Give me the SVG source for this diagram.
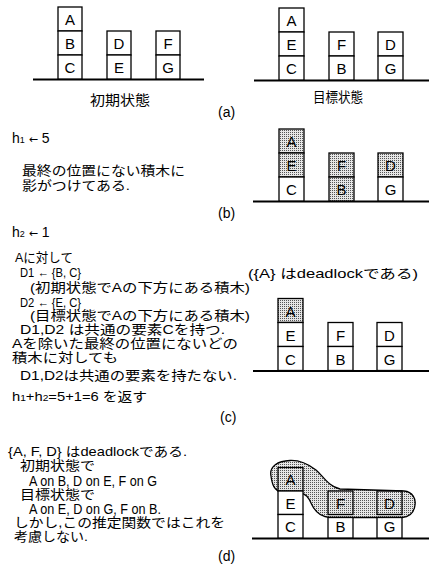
<svg xmlns="http://www.w3.org/2000/svg" width="429" height="568" viewBox="0 0 429 568">
<defs>
<pattern id="dots" patternUnits="userSpaceOnUse" width="2" height="2">
<rect width="2" height="2" fill="#e6e6e6"/>
<rect width="1" height="1" fill="#555"/>
</pattern>
<style>
text{font-family:"Liberation Sans","Noto Sans CJK JP",sans-serif;font-size:13px;fill:#000}
.lat{font-size:14px}
.lbl{font-size:15px;text-anchor:middle}
.cap{font-size:14px}
.arr{font-family:"DejaVu Sans",sans-serif;font-size:11px}
.blk{fill:#fff;stroke:#000;stroke-width:1.3}
.sh{fill:url(#dots);stroke:#000;stroke-width:1.3}
.ol{fill:none;stroke:#000;stroke-width:1.3}
.gnd{stroke:#000;stroke-width:2;fill:none}
.sub{font-size:9px}
</style>
</defs>
<rect width="429" height="568" fill="#fff"/>

<!-- (a) initial state -->
<g id="a-initial">
<line class="gnd" x1="33" y1="79.5" x2="204" y2="79.5"/>
<rect class="blk" x="58" y="7" width="24" height="24"/><text class="lbl" x="70" y="25">A</text>
<rect class="blk" x="58" y="31" width="24" height="24"/><text class="lbl" x="70" y="49">B</text>
<rect class="blk" x="58" y="55" width="24" height="24"/><text class="lbl" x="70" y="73">C</text>
<rect class="blk" x="107" y="31" width="24" height="24"/><text class="lbl" x="119" y="49">D</text>
<rect class="blk" x="107" y="55" width="24" height="24"/><text class="lbl" x="119" y="73">E</text>
<rect class="blk" x="156" y="31" width="24" height="24"/><text class="lbl" x="168" y="49">F</text>
<rect class="blk" x="156" y="55" width="24" height="24"/><text class="lbl" x="168" y="73">G</text>
<text class="cap" x="90" y="105" textLength="60" lengthAdjust="spacingAndGlyphs">初期状態</text>
</g>

<!-- (a) goal state -->
<g id="a-goal">
<line class="gnd" x1="254" y1="80.5" x2="429" y2="80.5"/>
<rect class="blk" x="279" y="8" width="25" height="24"/><text class="lbl" x="291.5" y="26">A</text>
<rect class="blk" x="279" y="32" width="25" height="24"/><text class="lbl" x="291.5" y="50">E</text>
<rect class="blk" x="279" y="56" width="25" height="24"/><text class="lbl" x="291.5" y="74">C</text>
<rect class="blk" x="329" y="32" width="25" height="24"/><text class="lbl" x="341.5" y="50">F</text>
<rect class="blk" x="329" y="56" width="25" height="24"/><text class="lbl" x="341.5" y="74">B</text>
<rect class="blk" x="378" y="32" width="25" height="24"/><text class="lbl" x="390.5" y="50">D</text>
<rect class="blk" x="378" y="56" width="25" height="24"/><text class="lbl" x="390.5" y="74">G</text>
<text class="cap" x="313" y="102" textLength="50" lengthAdjust="spacingAndGlyphs">目標状態</text>
<text class="cap" x="218" y="117">(a)</text>
</g>

<!-- (b) -->
<g id="b-text">
<text class="lat" x="12" y="143">h<tspan class="sub">1</tspan> <tspan class="arr">←</tspan> 5</text>
<text x="22" y="175" textLength="163" lengthAdjust="spacingAndGlyphs">最終の位置にない積木に</text>
<text x="22" y="190" textLength="108" lengthAdjust="spacingAndGlyphs">影がつけてある.</text>
<text class="cap" x="218" y="218">(b)</text>
</g>
<g id="b-blocks">
<line class="gnd" x1="253" y1="201.5" x2="429" y2="201.5"/>
<rect class="sh" x="279" y="129" width="25" height="24"/><text class="lbl" x="291.5" y="147">A</text>
<rect class="sh" x="279" y="153" width="25" height="24"/><text class="lbl" x="291.5" y="171">E</text>
<rect class="blk" x="279" y="177" width="25" height="24"/><text class="lbl" x="291.5" y="195">C</text>
<rect class="sh" x="329" y="153" width="25" height="24"/><text class="lbl" x="341.5" y="171">F</text>
<rect class="sh" x="329" y="177" width="25" height="24"/><text class="lbl" x="341.5" y="195">B</text>
<rect class="sh" x="378" y="153" width="25" height="24"/><text class="lbl" x="390.5" y="171">D</text>
<rect class="blk" x="378" y="177" width="25" height="24"/><text class="lbl" x="390.5" y="195">G</text>
</g>

<!-- (c) -->
<g id="c-text">
<text class="lat" x="12" y="237">h<tspan class="sub">2</tspan> <tspan class="arr">←</tspan> 1</text>
<text x="15" y="261.5" textLength="58" lengthAdjust="spacingAndGlyphs">Aに対して</text>
<text x="20" y="276.5" textLength="61" lengthAdjust="spacingAndGlyphs">D1 ← {B, C}</text>
<text x="30" y="292" textLength="220" lengthAdjust="spacingAndGlyphs">(初期状態でAの下方にある積木)</text>
<text x="20" y="306.5" textLength="61" lengthAdjust="spacingAndGlyphs">D2 ← {E, C}</text>
<text x="30" y="320" textLength="220" lengthAdjust="spacingAndGlyphs">(目標状態でAの下方にある積木)</text>
<text x="20" y="334" textLength="205" lengthAdjust="spacingAndGlyphs">D1,D2 は共通の要素Cを持つ.</text>
<text x="12" y="348" textLength="226" lengthAdjust="spacingAndGlyphs">Aを除いた最終の位置にないどの</text>
<text x="12" y="362" textLength="106" lengthAdjust="spacingAndGlyphs">積木に対しても</text>
<text x="20" y="380" textLength="217" lengthAdjust="spacingAndGlyphs">D1,D2は共通の要素を持たない.</text>
<text x="12" y="401" textLength="135" lengthAdjust="spacingAndGlyphs">h<tspan class="sub">1</tspan>+h<tspan class="sub">2</tspan>=5+1=6 を返す</text>
<text x="248" y="278" textLength="170" lengthAdjust="spacingAndGlyphs">({A} はdeadlockである)</text>
<text class="cap" x="220" y="422">(c)</text>
</g>
<g id="c-blocks">
<line class="gnd" x1="253" y1="371" x2="429" y2="371"/>
<rect class="sh" x="278" y="298.5" width="25" height="24"/><text class="lbl" x="290.5" y="316.5">A</text>
<rect class="blk" x="278" y="322.5" width="25" height="24"/><text class="lbl" x="290.5" y="340.5">E</text>
<rect class="blk" x="278" y="346.5" width="25" height="24"/><text class="lbl" x="290.5" y="364.5">C</text>
<rect class="blk" x="328" y="322.5" width="25" height="24"/><text class="lbl" x="340.5" y="340.5">F</text>
<rect class="blk" x="328" y="346.5" width="25" height="24"/><text class="lbl" x="340.5" y="364.5">B</text>
<rect class="blk" x="377" y="322.5" width="25" height="24"/><text class="lbl" x="389.5" y="340.5">D</text>
<rect class="blk" x="377" y="346.5" width="25" height="24"/><text class="lbl" x="389.5" y="364.5">G</text>
</g>

<!-- (d) -->
<g id="d-text">
<text x="8" y="456" textLength="179" lengthAdjust="spacingAndGlyphs">{A, F, D} はdeadlockである.</text>
<text x="20" y="470" textLength="75" lengthAdjust="spacingAndGlyphs">初期状態で</text>
<text class="lat" x="29" y="485.5" textLength="128" lengthAdjust="spacingAndGlyphs">A on B, D on E, F on G</text>
<text x="20" y="499" textLength="75" lengthAdjust="spacingAndGlyphs">目標状態で</text>
<text class="lat" x="29" y="513.5" textLength="132" lengthAdjust="spacingAndGlyphs">A on E, D on G, F on B.</text>
<text x="14" y="527" textLength="211" lengthAdjust="spacingAndGlyphs">しかし,この推定関数ではこれを</text>
<text x="14" y="541" textLength="74" lengthAdjust="spacingAndGlyphs">考慮しない.</text>
<text class="cap" x="218" y="561">(d)</text>
</g>
<g id="d-blocks">
<line class="gnd" x1="252" y1="538.5" x2="429" y2="538.5"/>
<path class="sh" d="M271,476 C269,466 278,461 290,460.5 C300,460 308,464 316,470 C324,477 328,486 340,489 L404,491 C413,492 416,499 415,505 C414,513 409,517 402,517.5 L330,517.5 C320,517 315,511 312,505 C309,498 306,493 298,492.5 L282,492 C274,491 272,484 271,476 Z"/>
<rect class="ol" x="278" y="467.5" width="25" height="23.5"/><text class="lbl" x="290.5" y="485">A</text>
<rect class="blk" x="278" y="491" width="25" height="23.5"/><text class="lbl" x="290.5" y="508.5">E</text>
<rect class="blk" x="278" y="514.5" width="25" height="23.5"/><text class="lbl" x="290.5" y="532">C</text>
<rect class="ol" x="328" y="491" width="25" height="23.5"/><text class="lbl" x="340.5" y="508.5">F</text>
<rect class="blk" x="328" y="517.5" width="25" height="20.5"/><text class="lbl" x="340.5" y="532">B</text>
<rect class="ol" x="377" y="491" width="25" height="23.5"/><text class="lbl" x="389.5" y="508.5">D</text>
<rect class="blk" x="377" y="517.5" width="25" height="20.5"/><text class="lbl" x="389.5" y="532">G</text>
</g>
</svg>
